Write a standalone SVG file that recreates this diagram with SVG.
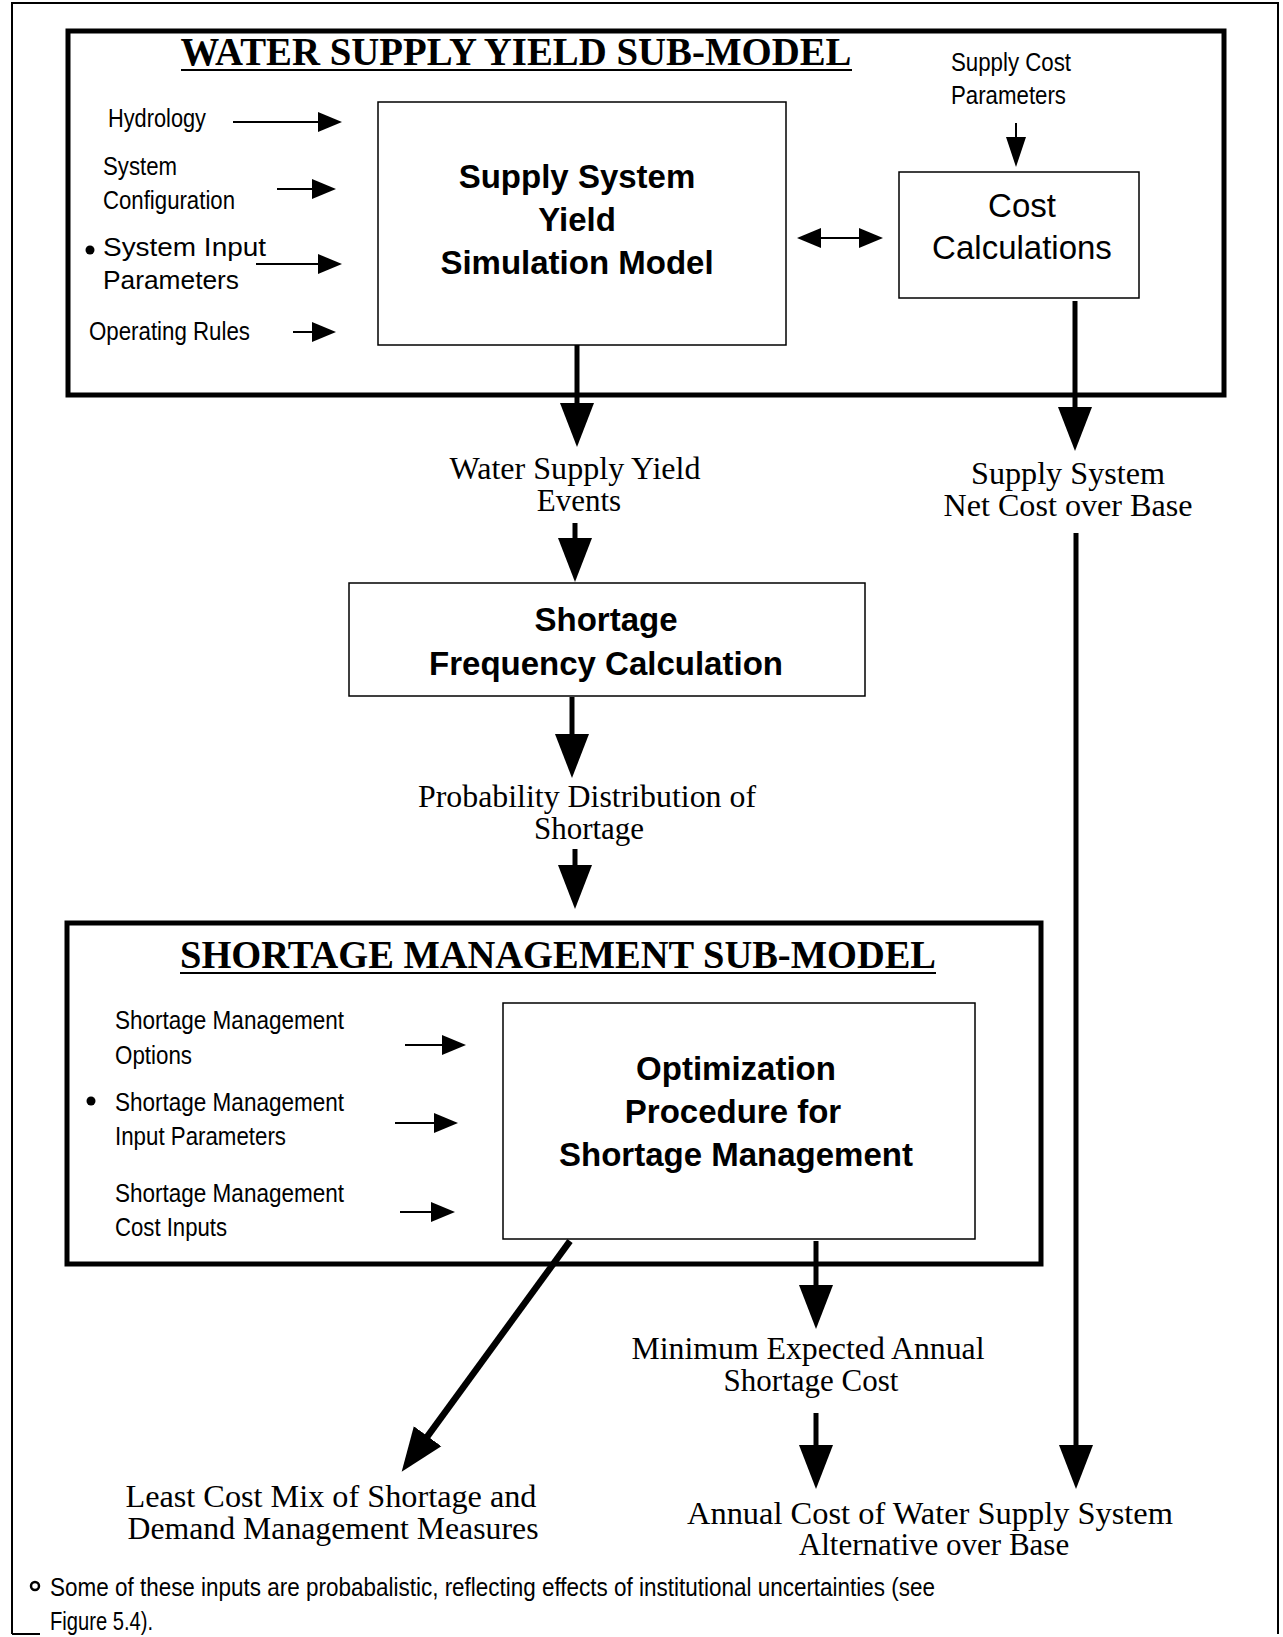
<svg xmlns="http://www.w3.org/2000/svg" width="1283" height="1637" viewBox="0 0 1283 1637">
<style>
.frame{fill:none;stroke:#000;stroke-width:2}
.sub{fill:none;stroke:#000;stroke-width:5}
.box{fill:#fff;stroke:#000;stroke-width:1.5}
.title{font-family:"Liberation Serif","Times New Roman",serif;font-weight:bold;font-size:40px;text-anchor:middle}
.ul{stroke:#000;stroke-width:2}
.bx{font-family:"Liberation Sans",Arial,sans-serif;font-weight:bold;font-size:33px;text-anchor:middle}
.rg{font-family:"Liberation Sans",Arial,sans-serif;font-size:33px;text-anchor:middle}
.in{font-family:"Liberation Sans",Arial,sans-serif;font-size:25px}
.sf{font-family:"Liberation Serif","Times New Roman",serif;font-size:31px;text-anchor:middle}
.thick{fill:none;stroke:#000;stroke-width:5;marker-end:url(#big)}
.thin{fill:none;stroke:#000;stroke-width:2;marker-end:url(#small)}
.mid{fill:none;stroke:#000;stroke-width:2;marker-end:url(#mid)}
</style>
<defs>
<marker id="big" markerUnits="userSpaceOnUse" markerWidth="44" markerHeight="36" viewBox="0 0 44 36" refX="1" refY="18" orient="auto"><path d="M0,1 L44,18 L0,35 Z" fill="#000"/></marker>
<marker id="small" markerUnits="userSpaceOnUse" markerWidth="24" markerHeight="22" viewBox="0 0 24 22" refX="1" refY="11" orient="auto-start-reverse"><path d="M0,1 L24,11 L0,21 Z" fill="#000"/></marker>
<marker id="mid" markerUnits="userSpaceOnUse" markerWidth="30" markerHeight="22" viewBox="0 0 30 22" refX="1" refY="11" orient="auto"><path d="M0,1 L30,11 L0,21 Z" fill="#000"/></marker>
</defs>
<rect width="1283" height="1637" fill="#fff"/>
<path class="frame" d="M12,1634 V3 H1278 V1634 M12,1634 H40"/>

<g id="water-supply-yield-submodel">
<rect class="sub" x="68" y="31" width="1156" height="364"/>
<text class="title" x="516" y="65" textLength="671" lengthAdjust="spacingAndGlyphs">WATER SUPPLY YIELD SUB-MODEL</text>
<line class="ul" x1="181" y1="70" x2="852" y2="70"/>
</g>

<g id="input-hydrology"><text class="in" x="108" y="127" textLength="98" lengthAdjust="spacingAndGlyphs">Hydrology</text></g>
<g id="input-system-configuration"><text class="in" x="103" y="175" textLength="74" lengthAdjust="spacingAndGlyphs">System</text><text class="in" x="103" y="209" textLength="132" lengthAdjust="spacingAndGlyphs">Configuration</text></g>
<g id="input-system-input-parameters"><circle cx="90" cy="250" r="4.5"/><text class="in" x="103" y="256" textLength="163" lengthAdjust="spacingAndGlyphs">System  Input</text><text class="in" x="103" y="289" textLength="136" lengthAdjust="spacingAndGlyphs">Parameters</text></g>
<g id="input-operating-rules"><text class="in" x="89" y="340" textLength="161" lengthAdjust="spacingAndGlyphs">Operating Rules</text></g>

<g id="supply-system-yield-simulation-model">
<rect class="box" x="378" y="102" width="408" height="243"/>
<text class="bx" x="577" y="188">Supply System</text>
<text class="bx" x="577" y="231">Yield</text>
<text class="bx" x="577" y="274">Simulation Model</text>
</g>

<g id="supply-cost-parameters"><text class="in" x="951" y="71" textLength="120" lengthAdjust="spacingAndGlyphs">Supply Cost</text><text class="in" x="951" y="104" textLength="115" lengthAdjust="spacingAndGlyphs">Parameters</text></g>

<g id="cost-calculations">
<rect class="box" x="899" y="172" width="240" height="126"/>
<text class="rg" x="1022" y="217">Cost</text>
<text class="rg" x="1022" y="259">Calculations</text>
</g>

<g id="water-supply-yield-events"><text class="sf" x="575" y="479" textLength="251" lengthAdjust="spacingAndGlyphs">Water Supply Yield</text><text class="sf" x="579" y="511">Events</text></g>
<g id="supply-system-net-cost"><text class="sf" x="1068" y="484" textLength="194" lengthAdjust="spacingAndGlyphs">Supply System</text><text class="sf" x="1068" y="516" textLength="249" lengthAdjust="spacingAndGlyphs">Net Cost over Base</text></g>

<g id="shortage-frequency-calculation">
<rect class="box" x="349" y="583" width="516" height="113"/>
<text class="bx" x="606" y="631">Shortage</text>
<text class="bx" x="606" y="675">Frequency Calculation</text>
</g>

<g id="probability-distribution"><text class="sf" x="587" y="807" textLength="338" lengthAdjust="spacingAndGlyphs">Probability Distribution of</text><text class="sf" x="589" y="839">Shortage</text></g>

<g id="shortage-management-submodel">
<rect class="sub" x="67" y="923" width="974" height="341"/>
<text class="title" x="558" y="968" textLength="756" lengthAdjust="spacingAndGlyphs">SHORTAGE MANAGEMENT SUB-MODEL</text>
<line class="ul" x1="180" y1="973" x2="936" y2="973"/>
</g>

<g id="input-sm-options"><text class="in" x="115" y="1029" textLength="229" lengthAdjust="spacingAndGlyphs">Shortage Management</text><text class="in" x="115" y="1064" textLength="77" lengthAdjust="spacingAndGlyphs">Options</text></g>
<g id="input-sm-input-parameters"><circle cx="91" cy="1101" r="4.5"/><text class="in" x="115" y="1111" textLength="229" lengthAdjust="spacingAndGlyphs">Shortage Management</text><text class="in" x="115" y="1145" textLength="171" lengthAdjust="spacingAndGlyphs">Input Parameters</text></g>
<g id="input-sm-cost-inputs"><text class="in" x="115" y="1202" textLength="229" lengthAdjust="spacingAndGlyphs">Shortage Management</text><text class="in" x="115" y="1236" textLength="112" lengthAdjust="spacingAndGlyphs">Cost Inputs</text></g>

<g id="optimization-procedure">
<rect class="box" x="503" y="1003" width="472" height="236"/>
<text class="bx" x="736" y="1080">Optimization</text>
<text class="bx" x="733" y="1123">Procedure for</text>
<text class="bx" x="736" y="1166">Shortage Management</text>
</g>

<g id="minimum-expected-annual-shortage-cost"><text class="sf" x="808" y="1359" textLength="353" lengthAdjust="spacingAndGlyphs">Minimum Expected Annual</text><text class="sf" x="811" y="1391">Shortage Cost</text></g>
<g id="least-cost-mix"><text class="sf" x="331" y="1507" textLength="411" lengthAdjust="spacingAndGlyphs">Least Cost Mix of Shortage and</text><text class="sf" x="333" y="1539" textLength="411" lengthAdjust="spacingAndGlyphs">Demand Management Measures</text></g>
<g id="annual-cost"><text class="sf" x="930" y="1524" textLength="486" lengthAdjust="spacingAndGlyphs">Annual Cost of Water Supply System</text><text class="sf" x="934" y="1555">Alternative over Base</text></g>

<g id="footnote">
<circle cx="35" cy="1586" r="4" fill="none" stroke="#000" stroke-width="2.5"/>
<text class="in" x="50" y="1596" textLength="885" lengthAdjust="spacingAndGlyphs">Some of these inputs are probabalistic, reflecting effects of institutional uncertainties (see</text>
<text class="in" x="50" y="1630" textLength="103" lengthAdjust="spacingAndGlyphs">Figure 5.4).</text>
</g>

<g id="connectors">
<path class="thin" d="M233,122 H319"/>
<path class="thin" d="M277,189 H313"/>
<path class="thin" d="M256,264 H319"/>
<path class="thin" d="M293,332 H313"/>
<path class="mid" d="M1016,123 V138"/>
<path d="M820,238 H860" fill="none" stroke="#000" stroke-width="2" marker-start="url(#small)" marker-end="url(#small)"/>
<path class="thick" d="M577,345 V404"/>
<path class="thick" d="M1075,301 V408"/>
<path class="thick" d="M575,523 V539"/>
<path class="thick" d="M572,697 V735"/>
<path class="thick" d="M575,849 V866"/>
<path class="thin" d="M405,1045 H443"/>
<path class="thin" d="M395,1123 H435"/>
<path class="thin" d="M400,1212 H432"/>
<path class="thick" d="M1076,533 V1446"/>
<path class="thick" d="M816,1241 V1286"/>
<path class="thick" d="M816,1413 V1446"/>
<path class="thick" style="stroke-width:6.5" d="M570,1241 L427,1437"/>
</g>
</svg>
